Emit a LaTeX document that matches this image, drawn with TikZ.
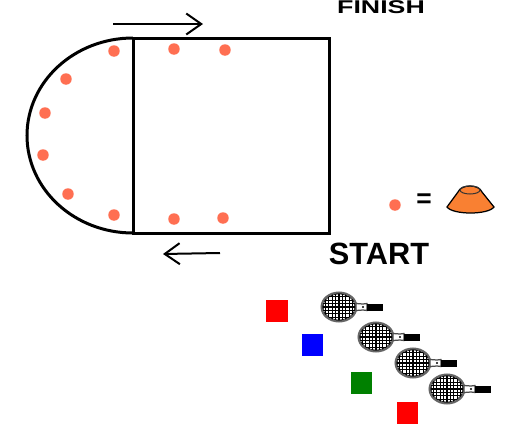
\documentclass[tikz,border=0pt]{standalone}
\usepackage{fontspec}
\setmainfont{Liberation Sans}
\definecolor{conecolor}{HTML}{FF6F52}
\definecolor{coneorange}{HTML}{F98032}
\tikzset{
  marker/.style={circle,fill=conecolor,inner sep=0pt,minimum size=0.23cm},
  swatch/.style={inner sep=0pt,minimum size=0.44cm},
  label/.style={inner sep=0pt,font=\fontsize{17.5}{20}\selectfont\bfseries},
  course/.style={line width=0.06cm},
  direction/.style={line width=0.04cm,-{Straight Barb[length=0.3cm,width=0.42cm]}},
  racket/.pic={
    \begin{scope}
      \clip (0,0) ellipse [x radius=17.5,y radius=14.5];
      \draw[line width=0.022cm,step=0.068cm] (-18,-15) grid (18,15);
    \end{scope}
    \draw[black!60,line width=0.04cm] (0,0) ellipse [x radius=17.5,y radius=14.5];
    \draw[black,line width=0.012cm] (0,0) ellipse [x radius=16,y radius=13];
    \filldraw[fill=white,draw=black!70,line width=0.025cm] (17,-3.5) -- (24,-3) -- (28,-3.5) -- (28,3.5) -- (24,3) -- (17,3.5) -- cycle;
    \fill (24,0) circle [radius=1.2];
    \fill (28,-3.5) rectangle (44,3.5);
  }
}
\usetikzlibrary{arrows.meta}

\begin{document}
\begin{tikzpicture}[x=0.02cm,y=-0.02cm]
  \useasboundingbox (0,0) rectangle (508,433);
  \clip (0,0) rectangle (508,433);

  % course
  \draw[course] (133,38) rectangle (329,233);
  \draw[course] (133,38) arc [start angle=270,end angle=90,x radius=106,y radius=97.5];

  % cones on the course
  \node[marker] (cone1) at (114,51) {};
  \node[marker] (cone2) at (66,79) {};
  \node[marker] (cone3) at (45,113) {};
  \node[marker] (cone4) at (43,155) {};
  \node[marker] (cone5) at (68,194) {};
  \node[marker] (cone6) at (114,215) {};
  \node[marker] (cone7) at (174,49) {};
  \node[marker] (cone8) at (225,50) {};
  \node[marker] (cone9) at (174,219) {};
  \node[marker] (cone10) at (223,218) {};

  % directions
  \coordinate (topfrom) at (113,24);
  \coordinate (topto) at (203,24);
  \coordinate (bottomfrom) at (220,253);
  \coordinate (bottomto) at (163,254);
  \draw[direction] (topfrom) -- (topto);
  \draw[direction] (bottomfrom) -- (bottomto);

  \node[label] (finish) at (381,7.5) {\scalebox{0.87}[0.6]{FINISH}};
  \node[label] (start) at (379,254) {START};

  % legend
  \node[marker] (legend) at (395,205) {};
  \node[label,font=\fontsize{15}{18}\selectfont\bfseries] (equals) at (424,201) {=};
  \filldraw[fill=coneorange,draw=black,line width=0.025cm] (447,207) -- (458,192) .. controls (461,184) and (479,184) .. (482,192) -- (494,207) .. controls (488,215) and (453,215) .. (447,207) -- cycle;
  \draw[black!80,line width=0.02cm] (470,190) ellipse [x radius=10,y radius=4];

  % squares
  \node[swatch,fill=red] (red1) at (277,310.5) {};
  \node[swatch,fill=blue] (blue1) at (312.5,345) {};
  \node[swatch,fill=green!50!black] (green1) at (361.5,383) {};
  \node[swatch,fill=red] (red2) at (407.5,413) {};

  % rackets
  \pic at (339,307) {racket};
  \pic at (376,337) {racket};
  \pic at (413,363) {racket};
  \pic at (447,389) {racket};
\end{tikzpicture}
\end{document}
